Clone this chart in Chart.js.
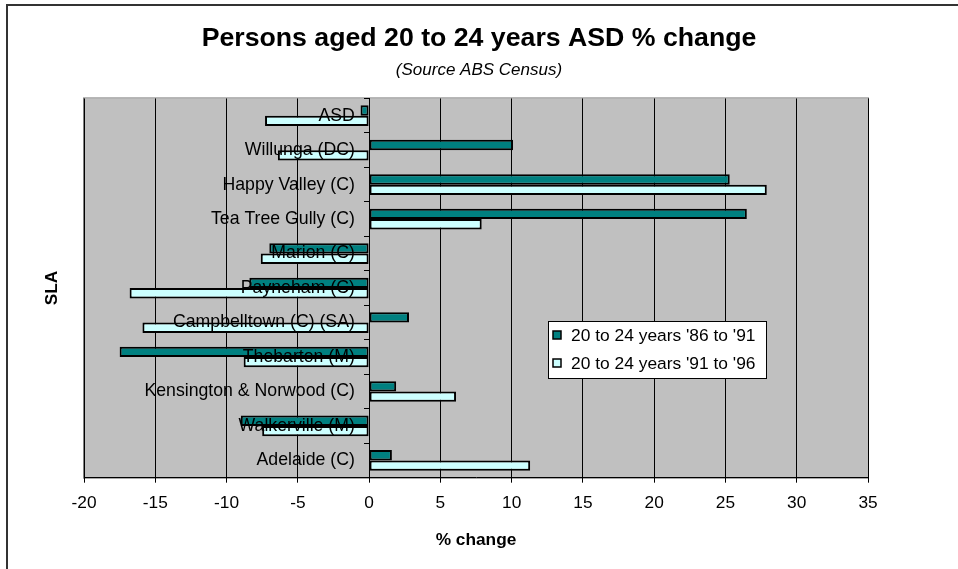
<!DOCTYPE html>
<html><head><meta charset="utf-8">
<script src="https://cdn.jsdelivr.net/npm/chart.js@4.4.1/dist/chart.umd.min.js"></script>
<style>html,body{margin:0;padding:0;background:#fff}canvas{display:block}</style>
</head><body>
<canvas id="c" width="958" height="569"></canvas>
<script>
// ---- data (top to bottom, as shown) ----
const categories = ['ASD','Willunga (DC)','Happy Valley (C)','Tea Tree Gully (C)','Marion (C)','Payneham (C)','Campbelltown (C) (SA)','Thebarton (M)','Kensington & Norwood (C)','Walkerville (M)','Adelaide (C)'];
const change86to91 = [-0.6, 10.1, 25.3, 26.5, -7.0, -8.4, 2.8, -17.5, 1.9, -9.0, 1.6];
const change91to96 = [-7.3, -6.4, 27.9, 7.9, -7.6, -16.8, -15.9, -8.8, 6.1, -7.5, 11.3];
const seriesNames = ["20 to 24 years '86 to '91", "20 to 24 years '91 to '96"];
const xTickValues = [-20, -15, -10, -5, 0, 5, 10, 15, 20, 25, 30, 35];
const chartTitle = 'Persons aged 20 to 24 years ASD % change';
const chartSubtitle = '(Source ABS Census)';
const xTitle = '% change';
const yTitle = 'SLA';

const FONT = "'Liberation Sans', Arial, Helvetica, sans-serif";
Chart.defaults.font.family = FONT;
Chart.defaults.color = '#000';

const backgroundPlugin = {
  id: 'bg',
  beforeDraw(chart) {
    const {ctx, chartArea: a, width, height} = chart;
    ctx.save();
    ctx.fillStyle = '#fff';
    ctx.fillRect(0, 0, width, height);
    // outer frame (top & left visible)
    ctx.strokeStyle = '#333';
    ctx.lineWidth = 2;
    ctx.beginPath();
    ctx.moveTo(7, height); ctx.lineTo(7, 5); ctx.lineTo(width, 5);
    ctx.stroke();
    // plot area
    ctx.fillStyle = '#C0C0C0';
    ctx.fillRect(a.left, a.top, a.right - a.left, a.bottom - a.top);
    ctx.strokeStyle = '#808080';
    ctx.lineWidth = 1;
    ctx.strokeRect(a.left - 0.5, a.top - 0.5, a.right - a.left + 1, a.bottom - a.top + 1);
    ctx.restore();
  }
};

const legendPlugin = {
  id: 'boxLegend',
  afterDraw(chart) {
    const {ctx} = chart;
    const bx = 548, by = 321, bw = 218, bh = 57;
    ctx.save();
    ctx.fillStyle = '#fff';
    ctx.fillRect(bx, by, bw, bh);
    ctx.strokeStyle = '#000';
    ctx.lineWidth = 1;
    ctx.strokeRect(bx + 0.5, by + 0.5, bw, bh);
    ctx.font = '17.4px ' + FONT;
    ctx.textBaseline = 'middle';
    ctx.textAlign = 'left';
    chart.data.datasets.forEach((ds, i) => {
      const cy = by + 14 + i * 28;
      ctx.fillStyle = ds.backgroundColor;
      ctx.fillRect(553, cy - 4, 8, 8);
      ctx.strokeStyle = '#000';
      ctx.lineWidth = 1.5;
      ctx.strokeRect(553, cy - 4, 8, 8);
      ctx.fillStyle = '#000';
      ctx.fillText(ds.label, 571, cy + 1);
    });
    ctx.restore();
  }
};

new Chart(document.getElementById('c'), {
  type: 'bar',
  data: {
    labels: categories,
    datasets: [
      {label: seriesNames[0], data: change86to91, backgroundColor: '#008080', borderColor: '#000', borderWidth: 2, borderSkipped: false, yAxisID: 'y'},
      {label: seriesNames[1], data: change91to96, backgroundColor: '#CCFFFF', borderColor: '#000', borderWidth: 2, borderSkipped: false, yAxisID: 'y'}
    ]
  },
  options: {
    indexAxis: 'y',
    responsive: false,
    animation: false,
    devicePixelRatio: 1,
    categoryPercentage: 0.6,
    barPercentage: 1.0,
    layout: {padding: {left: 0, right: 0, top: 0, bottom: 0}},
    plugins: {
      legend: {display: false},
      tooltip: {enabled: false},
      title: {display: true, text: chartTitle, color: '#000', font: {size: 26.7, weight: 'bold'}, padding: {top: 23, bottom: 0}},
      subtitle: {display: true, text: chartSubtitle, color: '#000', font: {size: 17, style: 'italic'}, padding: {top: 5.2, bottom: 17.8}}
    },
    scales: {
      x: {
        type: 'linear', position: 'bottom',
        min: xTickValues[0], max: xTickValues[xTickValues.length - 1],
        ticks: {stepSize: xTickValues[1] - xTickValues[0], color: '#000', font: {size: 17.3}, padding: 10},
        grid: {color: '#000', lineWidth: 1, drawTicks: true, tickLength: 5, tickColor: '#000'},
        border: {color: '#000', width: 1},
        title: {display: true, text: xTitle, color: '#000', font: {size: 17.3, weight: 'bold'}, padding: {top: 6, bottom: 18.8}}
      },
      y: {
        type: 'category', position: 'left', offset: true,
        grid: {display: false, drawTicks: false},
        border: {display: false},
        ticks: {display: false},
        title: {display: true, text: yTitle, color: '#000', font: {size: 17.3, weight: 'bold'}, padding: {top: 41.8, bottom: 0}},
        afterFit(s) { s.width = 84; }
      },
      yRight: {
        type: 'category', position: 'right', offset: true,
        grid: {display: false, drawTicks: false},
        border: {display: false},
        ticks: {display: false},
        afterFit(s) { s.width = 90; }
      },
      yLabels: {
        type: 'category', position: {x: -1.0}, offset: true,
        grid: {display: false, drawTicks: false},
        border: {display: false},
        ticks: {color: '#000', font: {size: 17.7}, z: 2, autoSkip: false}
      },
      yTicks: {
        type: 'category', position: {x: 0}, offset: true,
        grid: {display: true, drawOnChartArea: false, drawTicks: true, tickLength: 5, offset: true, color: '#000'},
        border: {display: true, color: '#000', width: 1},
        ticks: {display: false}
      }
    }
  },
  plugins: [backgroundPlugin, legendPlugin]
});
</script>
</body></html>
